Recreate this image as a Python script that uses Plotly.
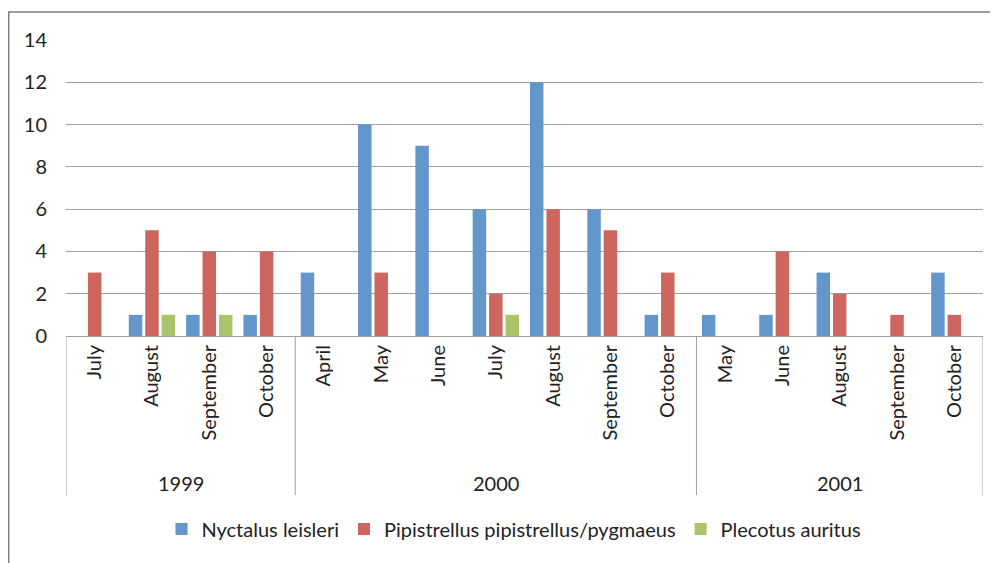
import plotly.graph_objects as go

years = ["1999", "2000", "2001"]
months_per_year = [4, 7, 5]
months = ["July", "August", "September", "October",
          "April", "May", "June", "July", "August", "September", "October",
          "May", "June", "August", "September", "October"]
nyctalus = [0, 1, 1, 1, 3, 10, 9, 6, 12, 6, 1, 1, 1, 3, 0, 3]
pipistrellus = [3, 5, 4, 4, 0, 3, 0, 2, 6, 5, 3, 0, 4, 2, 1, 1]
plecotus = [0, 1, 1, 0, 0, 0, 0, 1, 0, 0, 0, 0, 0, 0, 0, 0]
y_ticks = [0, 2, 4, 6, 8, 10, 12, 14]

series = [
    ("Nyctalus leisleri", nyctalus, "#6396CB"),
    ("Pipistrellus pipistrellus/pygmaeus", pipistrellus, "#CE6660"),
    ("Plecotus auritus", plecotus, "#AAC46B"),
]

xpos = list(range(len(months)))
FONT = "Lato, 'Open Sans', sans-serif"
GRID = "#A0A0A0"
TXT = "#222222"
FS = 20
fig = go.Figure()
for name, vals, col in series:
    fig.add_trace(go.Bar(x=xpos, y=vals, name=name,
                         marker=dict(color=col, line=dict(width=0))))

# page body has an 8px offset; figure is sized so it ends at the window edge
PLOT_H = 296
PLOT_W = 917
AXIS_Y = 336
fig.update_layout(
    width=990, height=555,
    margin=dict(l=58, r=15, t=32, b=227),
    paper_bgcolor="white", plot_bgcolor="white",
    barmode="group", bargap=0.14, bargroupgap=0.18,
    font=dict(family=FONT, size=FS, color=TXT),
    legend=dict(orientation="h", x=(514 - 66) / PLOT_W, xanchor="center",
                y=-(529 - AXIS_Y) / PLOT_H, yanchor="middle",
                font=dict(size=FS), traceorder="normal", itemwidth=30),
    showlegend=True,
)
fig.update_yaxes(range=[0, 14], tickvals=y_ticks, showgrid=True, gridcolor=GRID,
                 gridwidth=1, zeroline=False, showline=False, ticks="",
                 ticklabelstandoff=18, tickfont=dict(size=FS), automargin=False)
fig.update_xaxes(range=[-0.5, len(months) - 0.5], tickvals=xpos, ticktext=months,
                 showline=True, linecolor=GRID, linewidth=1, showgrid=False,
                 zeroline=False, tickangle=-90, tickfont=dict(size=FS), ticks="",
                 automargin=False)

# year dividers and labels
bounds = [-0.5]
for n in months_per_year:
    bounds.append(bounds[-1] + n)
div_bottom = -(495 - AXIS_Y) / PLOT_H
for b in bounds:
    fig.add_shape(type="line", xref="x", yref="paper", x0=b, x1=b, y0=0, y1=div_bottom,
                  line=dict(color=GRID, width=1))
for i, yr in enumerate(years):
    fig.add_annotation(x=(bounds[i] + bounds[i + 1]) / 2, xref="x",
                       y=-(483 - AXIS_Y) / PLOT_H, yref="paper", text=yr, showarrow=False,
                       font=dict(size=FS, family=FONT, color=TXT),
                       xanchor="center", yanchor="middle")

# outer chart border
fig.add_shape(type="rect", xref="paper", yref="paper",
              x0=-57.3 / PLOT_W, x1=1.2, y0=-1.0, y1=1 + 28 / PLOT_H,
              line=dict(color="#7F7F7F", width=1.5), fillcolor="rgba(0,0,0,0)", layer="below")
fig.write_html("out.html")
